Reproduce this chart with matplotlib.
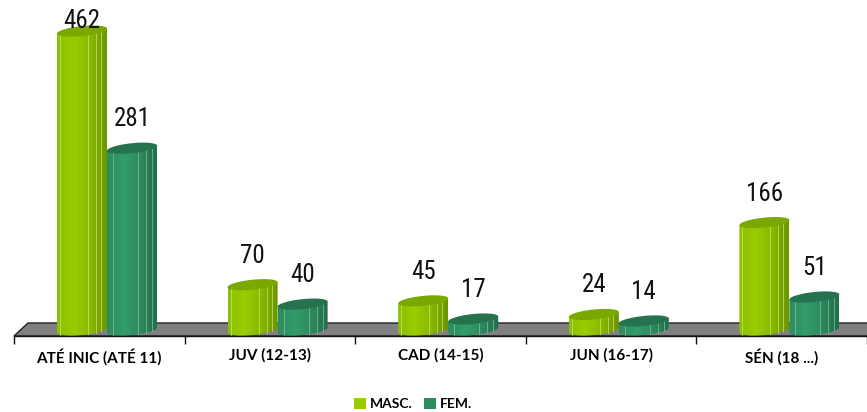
import numpy as np
import matplotlib
matplotlib.use("Agg")
import matplotlib.pyplot as plt
from matplotlib.patches import Polygon, Patch
from matplotlib.colors import to_rgb
from matplotlib import font_manager

# ---- data ----
categories = ["ATÉ INIC (ATÉ 11)", "JUV (12-13)", "CAD (14-15)", "JUN (16-17)", "SÉN (18 ...)"]
masc = [462, 70, 45, 24, 166]
fem = [281, 40, 17, 14, 51]
series_names = ["MASC.", "FEM."]

# ---- fonts ----
available = {f.name for f in font_manager.fontManager.ttflist}
narrow_candidates = ["Liberation Sans Narrow", "DejaVu Sans Condensed", "Roboto Condensed",
                     "Open Sans Condensed", "Noto Sans Condensed", "Arial Narrow"]
narrow = [f for f in narrow_candidates if f in available] + ["DejaVu Sans"]

# ---- style ----
W, H = 867, 412
fig = plt.figure(figsize=(W / 100, H / 100), dpi=100)
ax_left, ax_right = 14 / W, 1.0
ax_bottom = (H - 336) / H
ax = fig.add_axes([ax_left, ax_bottom, ax_right - ax_left, 1 - ax_bottom])

px_per_y = 0.647
ymin = -6 / px_per_y
ymax = 330 / px_per_y
ax.set_xlim(0, 5)
ax.set_ylim(ymin, ymax)
px_per_x = (W * (ax_right - ax_left)) / 5.0

# floor (gray parallelogram)
floor_depth = 13 / px_per_y
floor_shift = 14 / px_per_x
floor = Polygon([(0, ymin), (5.2, ymin), (5.2 + floor_shift, ymin + floor_depth),
                 (floor_shift, ymin + floor_depth)], closed=True,
                facecolor="#808080", edgecolor="#222222", lw=1.0, zorder=1, clip_on=False)
ax.add_patch(floor)

bar_w = 50 / px_per_x
off_m = -17.3 / px_per_x
off_f = 32.7 / px_per_x
b = 5.0 / px_per_y
skew = 0.10 * px_per_x / px_per_y

green_stops = ["#8CC000", "#99CC00", "#88B900", "#6A9300"]
teal_stops = ["#2D8C5F", "#349C6B", "#2D895D", "#236C4A"]
green_top = "#7BA800"
teal_top = "#26714E"
green_line = "#C9E67A"
teal_line = "#7FC6A2"


def gradient(stops, n=200):
    cols = np.array([to_rgb(c) for c in stops])
    pos = np.linspace(0, 1, len(stops))
    t = np.linspace(0, 1, n)
    return np.stack([np.interp(t, pos, cols[:, k]) for k in range(3)], axis=-1)


def cylinder(xc, v, stops, topc, linec, line_fracs):
    x0, x1 = xc - bar_w / 2, xc + bar_w / 2
    a = bar_w / 2
    t = np.linspace(np.pi, 2 * np.pi, 60)
    xb = xc + a * np.cos(t)
    yb = b * np.sin(t) + skew * (xb - xc)
    body = np.vstack([[x0, v - skew * a], np.column_stack([xb, yb]), [x1, v + skew * a]])
    poly = Polygon(body, closed=True, facecolor="none", edgecolor="none", zorder=3)
    ax.add_patch(poly)
    img = gradient(stops)[np.newaxis, :, :]
    im = ax.imshow(img, extent=[x0, x1, -b - skew * a - 1, v + b + skew * a + 1],
                   aspect="auto", zorder=3, interpolation="bilinear")
    im.set_clip_path(poly)
    for f in line_fracs:
        xl = x0 + f * bar_w
        tt = np.arccos(np.clip((xl - xc) / a, -1, 1))
        ylo = -b * np.sin(tt) + skew * (xl - xc)
        yhi = v + skew * (xl - xc)
        ax.plot([xl, xl], [ylo, yhi], color=linec, lw=0.7, alpha=0.7, zorder=4)
    tt = np.linspace(0, 2 * np.pi, 100)
    xt = xc + a * np.cos(tt)
    yt = v + b * np.sin(tt) + skew * (xt - xc)
    ax.add_patch(Polygon(np.column_stack([xt, yt]), closed=True, facecolor=topc,
                         edgecolor="none", zorder=5))


label_gap = 12 / px_per_y
label_cap = (330 - 33) / px_per_y
for i in range(len(categories)):
    xc = i + 0.5
    cylinder(xc + off_m, masc[i], green_stops, green_top, green_line, [0.06, 0.62, 0.78, 0.88])
    cylinder(xc + off_f, fem[i], teal_stops, teal_top, teal_line, [0.12, 0.62, 0.78, 0.9])
    for val, off in ((masc[i], off_m), (fem[i], off_f)):
        ly = min(val + b + label_gap, label_cap)
        ax.text(xc + off, ly, str(val), ha="center", va="bottom", fontsize=18,
                family=narrow, stretch="condensed", color="#111111", zorder=6)

# axes styling
for s in ("top", "right", "left"):
    ax.spines[s].set_visible(False)
ax.spines["bottom"].set_color("#111111")
ax.spines["bottom"].set_linewidth(1.0)
ax.set_yticks([])
ax.set_xticks([i + 0.5 for i in range(len(categories))])
ax.set_xticklabels(categories, fontsize=11, fontweight="bold", family=["Lato", "DejaVu Sans"])
ax.tick_params(axis="x", which="major", length=0, pad=9)
ax.set_xticks(np.arange(0, 6), minor=True)
ax.tick_params(axis="x", which="minor", length=6, width=1, color="#111111", direction="out")
ax.patch.set_visible(False)

handles = [Patch(facecolor="#99CC00", edgecolor="none"), Patch(facecolor="#2E8B5E", edgecolor="none")]
fig.legend(handles, series_names, loc="center", bbox_to_anchor=(413 / W, 1 - 404 / H),
           ncol=2, frameon=False, handlelength=0.85, handleheight=0.85, handletextpad=0.3,
           columnspacing=0.8, prop={"family": ["Lato", "DejaVu Sans"], "weight": "bold", "size": 10})

fig.savefig("out.png", dpi=100)
